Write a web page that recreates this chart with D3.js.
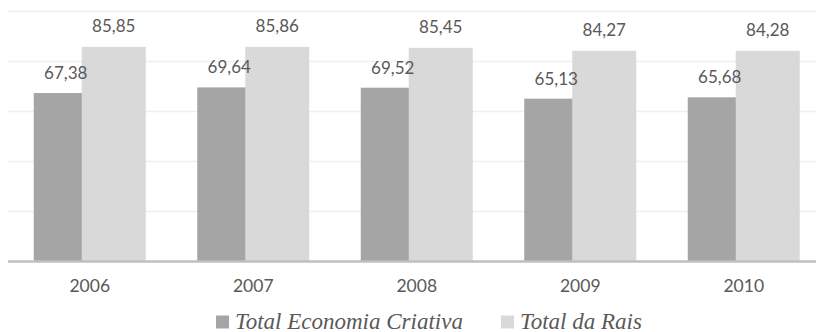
<!DOCTYPE html>
<html>
<head>
<meta charset="utf-8">
<script src="https://cdn.jsdelivr.net/npm/d3@7"></script>
<style>
  body { margin: 0; background: #fff; }
  svg { display: block; }
  .legend-text { font-family: "Liberation Serif", serif; font-style: italic; font-size: 23px; }
</style>
</head>
<body>
<div id="chart"></div>
<script>
// data
const years = ["2006", "2007", "2008", "2009", "2010"];
const economiaCriativa = [67.38, 69.64, 69.52, 65.13, 65.68];
const totalRais = [85.85, 85.86, 85.45, 84.27, 84.28];
const seriesNames = ["Total Economia Criativa", "Total da Rais"];
const gridTicks = [0, 20, 40, 60, 80, 100];

const width = 816, height = 332;
const margin = {top: 11.5, left: 8, bottom: 70.5};
const fmt = v => v.toFixed(2).replace(".", ",");

const svg = d3.select("#chart").append("svg")
    .attr("width", width)
    .attr("height", height);

const x = d3.scaleBand()
  .domain(years)
  .range([margin.left, margin.left + 5 * 163.5])
  .padding(0);

const y = d3.scaleLinear()
  .domain([0, 100])
  .range([height - margin.bottom, margin.top]);

const bw = x.bandwidth();
const barW = bw * 0.3915;   // each bar, the light one overlaps the dark one
const offDark = -bw * 0.3425;
const offLight = -bw * 0.049;

// grid
svg.append("g")
  .selectAll("line")
  .data(gridTicks.slice(1))
  .join("line")
    .attr("x1", margin.left)
    .attr("x2", width)
    .attr("y1", d => y(d))
    .attr("y2", d => y(d))
    .attr("stroke", "#efefef")
    .attr("stroke-width", 1.5);

const cx = d => x(d) + bw / 2;

// dark bars
svg.append("g")
    .attr("fill", "#a5a5a5")
  .selectAll("rect")
  .data(years)
  .join("rect")
    .attr("x", (d, i) => cx(d) + offDark)
    .attr("y", (d, i) => y(economiaCriativa[i]))
    .attr("width", barW)
    .attr("height", (d, i) => y(0) - y(economiaCriativa[i]));

// light bars on top
svg.append("g")
    .attr("fill", "#d9d9d9")
  .selectAll("rect")
  .data(years)
  .join("rect")
    .attr("x", (d, i) => cx(d) + offLight)
    .attr("y", (d, i) => y(totalRais[i]))
    .attr("width", barW)
    .attr("height", (d, i) => y(0) - y(totalRais[i]));

// baseline
svg.append("line")
    .attr("x1", margin.left)
    .attr("x2", width)
    .attr("y1", y(0))
    .attr("y2", y(0))
    .attr("stroke", "#bfbfbf")
    .attr("stroke-width", 2.5);

// value labels
const labels = svg.append("g")
    .attr("fill", "#595959")
    .attr("text-anchor", "middle")
    .style("font-family", "Lato, sans-serif")
    .style("font-size", "17px");

labels.selectAll(".lbl-dark")
  .data(years)
  .join("text")
    .attr("class", "lbl-dark")
    .attr("x", d => cx(d) + offDark + barW / 2)
    .attr("y", (d, i) => y(economiaCriativa[i]) - 14)
    .text((d, i) => fmt(economiaCriativa[i]));

labels.selectAll(".lbl-light")
  .data(years)
  .join("text")
    .attr("class", "lbl-light")
    .attr("x", d => cx(d) + offLight + barW / 2)
    .attr("y", (d, i) => y(totalRais[i]) - 15)
    .text((d, i) => fmt(totalRais[i]));

// x axis
const xAxis = svg.append("g")
    .attr("transform", `translate(0,${y(0)})`)
    .call(d3.axisBottom(x).tickSize(0).tickPadding(30.5));
xAxis.select(".domain").remove();
xAxis.selectAll("text")
    .attr("dy", 0)
    .attr("fill", "#595959")
    .style("font-family", "Lato, sans-serif")
    .style("font-size", "17.5px");

// legend
const legendX = [216, 501];
const legendColors = ["#a5a5a5", "#d9d9d9"];
const legend = svg.append("g");
seriesNames.forEach((name, i) => {
  legend.append("rect")
      .attr("x", legendX[i])
      .attr("y", 315.5)
      .attr("width", 13)
      .attr("height", 13)
      .attr("fill", legendColors[i]);
  legend.append("text")
      .attr("class", "legend-text")
      .attr("x", legendX[i] + 19)
      .attr("y", 328.5)
      .attr("fill", "#595959")
      .text(name);
});
</script>
</body>
</html>
